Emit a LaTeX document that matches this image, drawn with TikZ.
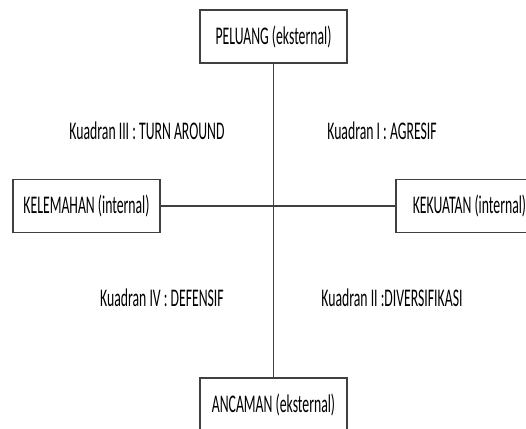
\documentclass[tikz,border=0pt]{standalone}
\usepackage{fontspec}
\setmainfont{Carlito}
\usepackage{graphicx}
\newcommand{\tall}[1]{\scalebox{1}[1.85]{#1}}
\begin{document}
\begin{tikzpicture}
[x=0.75pt,y=-0.75pt,line width=1.1pt,draw=black!75,
 faktor/.style={rectangle,draw=black!75,line width=1.1pt,minimum width=110pt,minimum height=40pt,inner sep=0pt,font=\fontsize{10.3}{12}\selectfont},
 kuadran/.style={inner sep=0pt,font=\fontsize{10.3}{12}\selectfont}]
\useasboundingbox (0,0) rectangle (526,429);
\clip (0,0) rectangle (526,429);
\node[faktor] (peluang) at (273.5,36.5) {\tall{PELUANG (eksternal)}};
\node[faktor] (ancaman) at (273.5,404.5) {\tall{ANCAMAN (eksternal)}};
\node[faktor] (kelemahan) at (86.5,206) {\tall{KELEMAHAN (internal)}};
\node[faktor] (kekuatan) at (469.5,206) {\tall{KEKUATAN (internal)}};
\draw (peluang) -- (ancaman);
\draw (kelemahan) -- (kekuatan);
\node[kuadran] (k3) at (147,131) {\tall{Kuadran III : TURN AROUND}};
\node[kuadran] (k1) at (382,131) {\tall{Kuadran I : AGRESIF}};
\node[kuadran] (k4) at (162,298) {\tall{Kuadran IV : DEFENSIF}};
\node[kuadran] (k2) at (392,298) {\tall{Kuadran II :DIVERSIFIKASI}};
\end{tikzpicture}
\end{document}
